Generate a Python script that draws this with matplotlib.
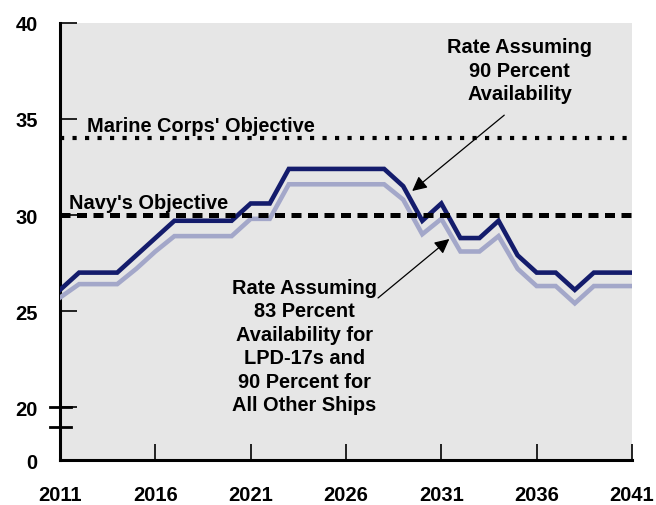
import matplotlib
matplotlib.use('Agg')
import matplotlib.pyplot as plt

# availability rates (ships)
years = list(range(2011, 2042))
rate_90 = [26.1, 27.0, 27.0, 27.0, 27.9, 28.8, 29.7, 29.7, 29.7, 29.7,
           30.6, 30.6, 32.4, 32.4, 32.4, 32.4, 32.4, 32.4, 31.5, 29.7,
           30.6, 28.8, 28.8, 29.7, 27.9, 27.0, 27.0, 26.1, 27.0, 27.0, 27.0]
rate_83 = [25.7, 26.4, 26.4, 26.4, 27.2, 28.1, 28.9, 28.9, 28.9, 28.9,
           29.8, 29.8, 31.6, 31.6, 31.6, 31.6, 31.6, 31.6, 30.8, 29.0,
           29.8, 28.1, 28.1, 28.9, 27.2, 26.3, 26.3, 25.4, 26.3, 26.3, 26.3]
marine_obj = 34
navy_obj = 30

xticks = [2011, 2016, 2021, 2026, 2031, 2036, 2041]
ytick_vals = [20, 25, 30, 35, 40]
ytick_labels = ['0', '20', '25', '30', '35', '40']

# broken axis: real 0 is drawn just below 20
zero_pos = 17.24
break_pos = 18.96

font = ['Liberation Sans', 'DejaVu Sans']

fig = plt.figure(figsize=(6.56, 5.06), dpi=100)
ax = fig.add_axes([0.0915, 0.0889, 0.8719, 0.8637])
ax.set_facecolor('#e6e6e6')

ax.plot(years, rate_83, color='#a3a7c9', lw=3.3, solid_joinstyle='miter', zorder=3)
ax.plot(years, rate_90, color='#141c6c', lw=3.3, solid_joinstyle='miter', zorder=4)

ax.axhline(marine_obj, color='black', lw=3.0, linestyle=(0, (1, 2)), zorder=2)
ax.axhline(navy_obj, color='black', lw=3.6, linestyle=(0, (2, 1.3)), zorder=5)

ax.text(2012.42, 34.37, "Marine Corps' Objective", family=font, fontweight='bold',
        fontsize=14.4, va='baseline', ha='left')
ax.text(2011.47, 30.35, "Navy's Objective", family=font, fontweight='bold',
        fontsize=14.4, va='baseline', ha='left')

ax.text(2035.1, 37.55, 'Rate Assuming\n90 Percent\nAvailability', ha='center',
        va='center', family=font, fontweight='bold', fontsize=14.4, linespacing=1.3)
ax.text(2023.8, 23.18,
        'Rate Assuming\n83 Percent\nAvailability for\nLPD-17s and\n90 Percent for\nAll Other Ships',
        ha='center', va='center', family=font, fontweight='bold', fontsize=14.4,
        linespacing=1.3)

arrow = dict(arrowstyle='-|>', color='black', lw=0.9, mutation_scale=22,
             shrinkA=0, shrinkB=0)
ax.annotate('', xy=(2029.47, 31.25), xytext=(2034.3, 35.2), arrowprops=arrow)
ax.annotate('', xy=(2031.42, 28.75), xytext=(2027.68, 25.68), arrowprops=arrow)

ax.set_xlim(2011, 2041)
ax.set_ylim(zero_pos, 40)
ax.set_xticks(xticks)
ax.set_xticklabels([str(x) for x in xticks], family=font, fontweight='bold', fontsize=14.5)
ax.set_yticks([zero_pos] + ytick_vals)
ax.set_yticklabels(ytick_labels, family=font, fontweight='bold', fontsize=14.5)
ax.tick_params(axis='x', direction='in', length=11.5, width=1.2, pad=18)
ax.tick_params(axis='y', direction='in', length=12, width=1.2, pad=16)

for s in ['top', 'right']:
    ax.spines[s].set_visible(False)
for s in ['left', 'bottom']:
    ax.spines[s].set_linewidth(2.2)

# break marks on the y axis
trans = ax.get_yaxis_transform()
for yb in [20, break_pos]:
    ax.plot([-0.018, 0.019], [yb, yb], color='black', lw=2.0, transform=trans,
            clip_on=False, zorder=6)

fig.savefig('out.png', dpi=100)
